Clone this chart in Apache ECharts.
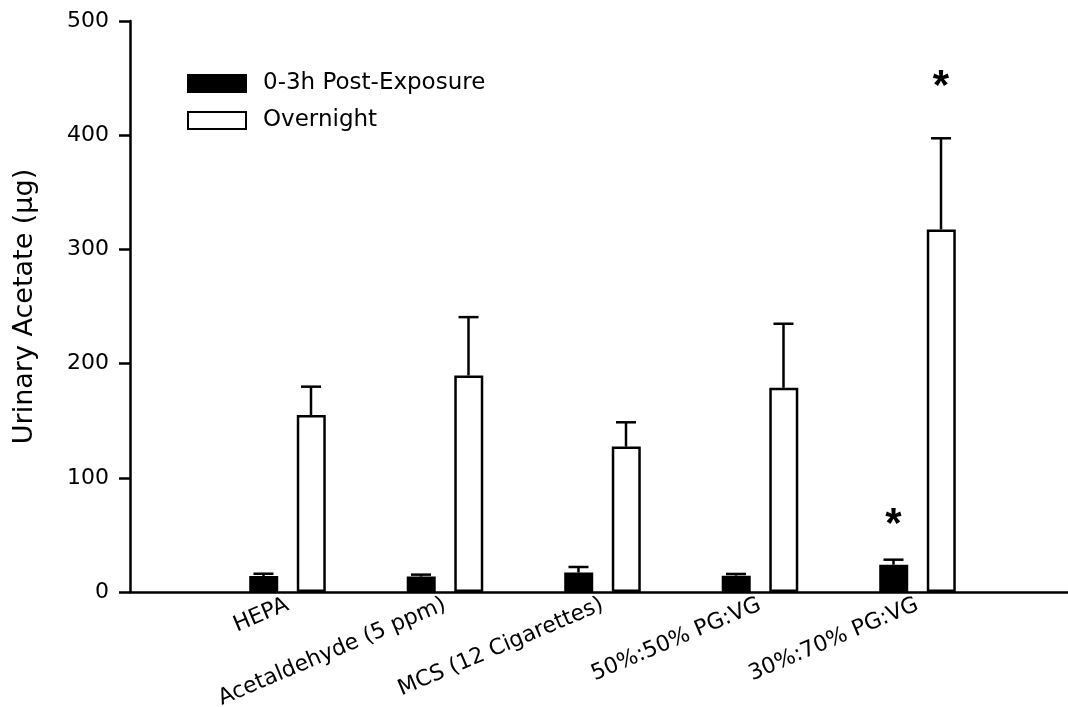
<!DOCTYPE html>
<html>
<head>
<meta charset="utf-8">
<script src="https://cdn.jsdelivr.net/npm/echarts@6/dist/echarts.min.js"></script>
<style>html,body{margin:0;padding:0;background:#fff}#c{width:1068px;height:707px}</style>
</head>
<body>
<div id="c"></div>
<script>
const categories = ['HEPA', 'Acetaldehyde (5 ppm)', 'MCS (12 Cigarettes)', '50%:50% PG:VG', '30%:70% PG:VG'];
const seriesNames = ['0-3h Post-Exposure', 'Overnight'];
const postMean = [14, 13.5, 17, 14.3, 23.9];
const postErrTop = [16, 15.2, 21.9, 15.8, 28.3];
const nightMean = [155, 189.6, 127.3, 178.8, 317.5];
const nightErrTop = [179.8, 240.7, 148.6, 234.9, 397.3];
const postSig = [false, false, false, false, true];
const nightSig = [false, false, false, false, true];
const yTicks = [0, 100, 200, 300, 400, 500];

const FONT = 'DejaVu Sans';
const axisCats = [''].concat(categories, ['']);
const pad = arr => [null].concat(arr, [null]);

function errData(means, tops, sigs) {
  return means.map((m, i) => [i + 1, m, tops[i], sigs[i] ? 1 : 0]);
}

function makeErr(offset, starGap) {
  return function (params, api) {
    const idx = api.value(0);
    const base = api.coord([idx, api.value(1)]);
    const top = api.coord([idx, api.value(2)]);
    const x = base[0] + offset;
    const children = [
      {type: 'line', shape: {x1: x, y1: base[1], x2: x, y2: top[1]}, style: {stroke: '#000', lineWidth: 2.5}},
      {type: 'line', shape: {x1: x - 10, y1: top[1], x2: x + 10, y2: top[1]}, style: {stroke: '#000', lineWidth: 2.5}}
    ];
    if (api.value(3)) {
      children.push({type: 'text', style: {text: '*', x: x, y: top[1] - starGap, align: 'center', verticalAlign: 'middle',
        font: 'bold 42px "Liberation Sans"', fill: '#000'}});
    }
    return {type: 'group', children: children};
  };
}

const chart = echarts.init(document.getElementById('c'));
chart.setOption({
  animation: false,
  backgroundColor: '#fff',
  grid: {left: 130, top: 21, width: 945, bottom: 115, containLabel: false, outerBoundsMode: 'none'},
  legend: {
    orient: 'vertical', left: 182, top: 67, itemWidth: 58, itemHeight: 17, itemGap: 14,
    icon: 'rect',
    textStyle: {fontFamily: FONT, fontSize: 23, color: '#000', padding: [0, 0, 0, 12]},
    data: seriesNames
  },
  xAxis: {
    type: 'category', data: axisCats, boundaryGap: false,
    axisLine: {lineStyle: {color: '#000', width: 2.5}},
    axisTick: {show: false},
    axisLabel: {interval: 0, rotate: 23, margin: 12, color: '#000', fontFamily: FONT, fontSize: 22},
    splitLine: {show: false}
  },
  yAxis: {
    type: 'value', min: yTicks[0], max: yTicks[yTicks.length - 1], interval: 100,
    name: 'Urinary Acetate (µg)', nameLocation: 'middle', nameRotate: 90, nameGap: 92,
    nameTextStyle: {fontFamily: FONT, fontSize: 27, color: '#000'},
    axisLine: {show: true, lineStyle: {color: '#000', width: 2.5}},
    axisTick: {show: true, length: 11, lineStyle: {color: '#000', width: 2.5}},
    axisLabel: {margin: 21, color: '#000', fontFamily: FONT, fontSize: 22},
    splitLine: {show: false}
  },
  series: [
    {name: seriesNames[0], type: 'bar', data: pad(postMean), barWidth: 29, barGap: '64%',
      itemStyle: {color: '#000', borderColor: '#000', borderWidth: 2.5}},
    {name: seriesNames[1], type: 'bar', data: pad(nightMean), barWidth: 29, barGap: '64%',
      itemStyle: {color: '#fff', borderColor: '#000', borderWidth: 2.5}},
    {type: 'custom', data: errData(postMean, postErrTop, postSig), renderItem: makeErr(-24, 34), clip: false, z: 5},
    {type: 'custom', data: errData(nightMean, nightErrTop, nightSig), renderItem: makeErr(23.5, 51), clip: false, z: 5}
  ]
});
</script>
</body>
</html>
